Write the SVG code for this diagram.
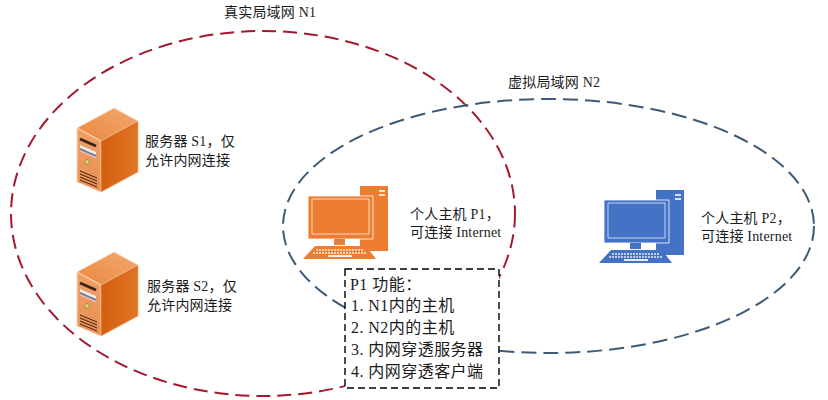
<svg xmlns="http://www.w3.org/2000/svg" width="828" height="400" viewBox="0 0 828 400">
<style>
text{font-family:"Liberation Serif","Noto Sans CJK SC",serif;font-size:14px;letter-spacing:.2px;fill:#1a1a1a}
.box{font-size:16px;letter-spacing:.45px}
.n{fill:none;stroke-width:2}
</style>
<defs>
<linearGradient id="srvTop" x1="0" y1="1" x2="1" y2="0"><stop offset="0" stop-color="#e9873f"/><stop offset="1" stop-color="#f2a970"/></linearGradient>
<linearGradient id="srvFront" x1="0" y1="0" x2="0" y2="1"><stop offset="0" stop-color="#f0a06a"/><stop offset="1" stop-color="#ea9050"/></linearGradient>
<linearGradient id="srvSide" x1="0" y1="0" x2="1" y2="0"><stop offset="0" stop-color="#d25f0e"/><stop offset="1" stop-color="#e07526"/></linearGradient>
<symbol id="server" overflow="visible">
<path d="M77 128 114 108 138 121 101 141Z" fill="url(#srvTop)" stroke="#fbd9bd"/>
<path d="M77 128 101 141V192L77 182Z" fill="url(#srvFront)" stroke="#fbd9bd"/>
<path d="M101 141 138 121V172L101 192Z" fill="url(#srvSide)" stroke="#f0a672" stroke-width=".7"/>
<path d="M80 139 96 146" stroke="#3a2418" stroke-width="3" fill="none"/>
<path d="M80 145 96 152V158L80 151Z" fill="#f3ece6"/>
<path d="M80 149 96 156" stroke="#7d7f96" stroke-width="2" fill="none"/>
<circle cx="87" cy="162" r="2.6" fill="#d8cf66" stroke="#8a7a2a" stroke-width=".6"/>
<path d="M80 171 97 178M80 174 97 181M80 177 97 184M80 180 97 187" stroke="#3a2012" stroke-width="1" fill="none"/>
</symbol>
<symbol id="pc" overflow="visible">
<path d="M360 186H388V251H360Z"/>
<path d="M308 196H373V239H308Z" stroke="#fff" stroke-width=".8"/>
<path d="M312 199H369V234H312Z" fill="none" stroke="#fff" stroke-opacity=".7"/>
<path d="M334 239H345V245H334Z"/>
<path d="M315 246H366L376 259H303Z"/>
<path d="M379 191h6M379 195h6" stroke="#fff" stroke-width="2" opacity=".8"/>
<path d="M316 250H364M313 253H367" stroke="#fff" stroke-width="1.6" stroke-dasharray="2 1" opacity=".85"/>
<path d="M328 256H352" stroke="#fff" stroke-width="2" opacity=".85"/>
</symbol>
</defs>
<rect width="828" height="400" fill="#fff"/>
<g id="connectors">
<ellipse id="n1-boundary" class="n" cx="263" cy="213.5" rx="252" ry="182.5" stroke="#a3192f" stroke-dasharray="14 7"/>
<ellipse id="n2-boundary" class="n" cx="548.5" cy="226" rx="265.5" ry="127" stroke="#3d5a78" stroke-dasharray="15 7"/>
</g>
<g id="n1-label"><text x="224" y="17">真实局域网 N1</text></g>
<g id="n2-label"><text x="508" y="87">虚拟局域网 N2</text></g>
<g id="s1"><use href="#server"/><text x="145" y="146">服务器 S1，仅</text><text x="145" y="165">允许内网连接</text></g>
<g id="s2"><use href="#server" y="144"/><text x="147" y="291">服务器 S2，仅</text><text x="147" y="310">允许内网连接</text></g>
<g id="p1"><use href="#pc" fill="#ed7d31"/><text x="410" y="219">个人主机 P1，</text><text x="410" y="237">可连接 Internet</text></g>
<g id="p2"><use href="#pc" x="296" y="4" fill="#4472c4"/><text x="701" y="223">个人主机 P2，</text><text x="701" y="241">可连接 Internet</text></g>
<g id="p1-functions">
<rect x="345" y="269" width="154" height="119" fill="#fff" stroke="#000" stroke-width="1.4" stroke-dasharray="7 4"/>
<text class="box" x="350" y="290">P1 功能：</text>
<text class="box" x="351" y="311">1. N1内的主机</text>
<text class="box" x="351" y="333">2. N2内的主机</text>
<text class="box" x="351" y="355">3. 内网穿透服务器</text>
<text class="box" x="351" y="377">4. 内网穿透客户端</text>
</g>
</svg>
